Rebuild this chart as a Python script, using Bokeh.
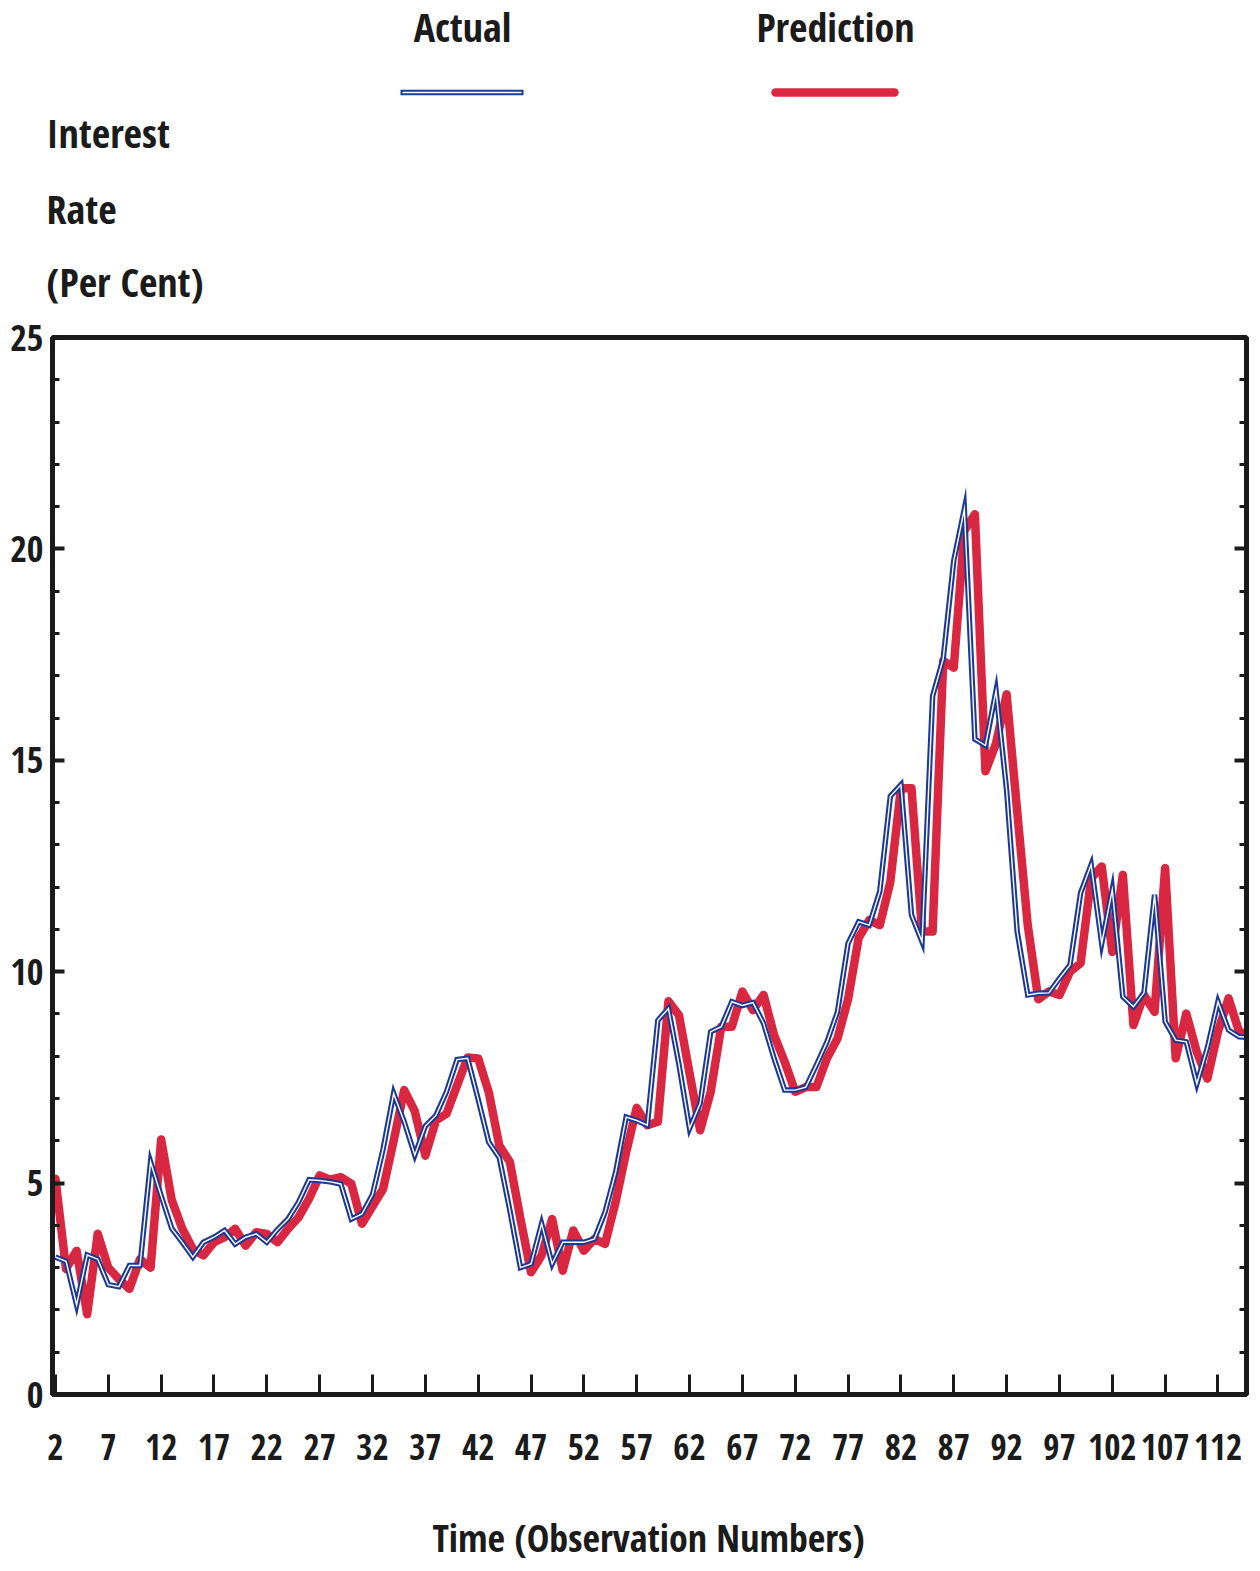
from bokeh.plotting import figure
from bokeh.models import Range1d, FixedTicker, LinearAxis
from bokeh.layouts import column
from bokeh.core.properties import value
from bokeh.embed import file_html
from bokeh.resources import INLINE

# ---------------- data ----------------
obs = list(range(2, 116))
actual = [
    3.25, 3.15, 2.12, 3.3, 3.2, 2.6, 2.55, 3.05, 3.05,
    5.5, 4.7, 3.93, 3.6, 3.25, 3.6, 3.72, 3.88, 3.56, 3.72,
    3.8, 3.6, 3.9, 4.15, 4.55, 5.08, 5.06, 5.03, 4.98, 4.15,
    4.27, 4.73, 5.8, 7.12, 6.45, 5.66, 6.35, 6.6, 7.16, 7.92,
    7.95, 6.98, 5.97, 5.6, 4.35, 3.0, 3.09, 4.04, 3.09, 3.6,
    3.6, 3.6, 3.68, 4.31, 5.25, 6.56, 6.48, 6.37, 8.85, 9.13,
    7.8, 6.29, 6.88, 8.58, 8.7, 9.29, 9.2, 9.27, 8.78, 7.95,
    7.2, 7.2, 7.27, 7.79, 8.34, 9.05, 10.67, 11.18, 11.1, 11.9,
    14.15, 14.42, 11.34, 10.71, 16.52, 17.4, 19.72, 20.94, 15.5, 15.35,
    16.64, 14.3, 10.95, 9.45, 9.49, 9.5, 9.84, 10.16, 11.86, 12.53,
    10.67, 11.94, 9.41, 9.17, 9.5, 11.82, 8.82, 8.38, 8.34, 7.35,
    8.2, 9.29, 8.62, 8.46, 8.45,
]
prediction = [
    5.1, 2.97, 3.4, 1.9, 3.8, 3.0, 2.73, 2.5, 3.2,
    3.0, 6.03, 4.6, 3.92, 3.44, 3.29, 3.6, 3.72, 3.92, 3.52,
    3.84, 3.8, 3.6, 3.92, 4.19, 4.63, 5.18, 5.08, 5.14, 4.98,
    4.04, 4.45, 4.86, 6.0, 7.2, 6.7, 5.65, 6.48, 6.64, 7.31,
    7.97, 7.95, 7.15, 5.89, 5.5, 4.15, 2.89, 3.29, 4.15, 2.93,
    3.88, 3.4, 3.68, 3.56, 4.55, 5.73, 6.78, 6.37, 6.45, 9.3,
    8.97, 7.6, 6.25, 7.16, 8.7, 8.7, 9.53, 9.09, 9.45, 8.5,
    7.87, 7.16, 7.27, 7.27, 7.95, 8.42, 9.35, 10.8, 11.22, 11.1,
    12.13, 14.34, 14.34, 10.95, 10.95, 17.35, 17.19, 20.43, 20.82, 14.74,
    15.4, 16.56, 13.8, 11.1, 9.35, 9.53, 9.45, 10.0, 10.2, 12.21,
    12.49, 10.47, 12.29, 8.74, 9.45, 9.05, 12.45, 7.95, 9.01, 8.1,
    7.47, 8.58, 9.37, 8.58, 8.5,
]
x_ticks = list(range(2, 113, 5))
y_ticks = [0, 5, 10, 15, 20, 25]
y_minor = list(range(0, 26))
series_names = ["Actual", "Prediction"]
y_title = ["Interest", "Rate", "(Per Cent)"]
x_title = "Time (Observation Numbers)"

# ---------------- style ----------------
BLUE = "#1c3a95"
RED = "#da2741"
INK = "#1b1b1b"
FONT = "'Open Sans Condensed', 'Roboto Condensed', 'DejaVu Sans Condensed', sans-serif"

W = 1256
HEAD_H = 311                 # page y 0 .. 311
MAIN_H = 1490 - HEAD_H       # page y 311 .. 1490
FOOT_H = 78                  # page y 1490 .. 1568
FR_L, FR_R, FR_T, FR_B = 52, 1246, 337, 1394  # page coords of the plot frame
DROP = 0.44                  # empirical baseline offset (em) of rendered text


def base(cap_center, size):
    """y to pass so that the caps of a `size`-px text are centred on cap_center."""
    return cap_center + 0.357 * size - DROP * size


def strip(h, y0):
    f = figure(width=W, height=h, output_backend="svg", toolbar_location=None,
               x_range=Range1d(0, W), y_range=Range1d(y0 + h, y0),
               x_axis_location=None, y_axis_location=None,
               min_border=0, min_border_left=0, min_border_right=0,
               min_border_top=0, min_border_bottom=0)
    f.outline_line_color = None
    f.grid.visible = False
    f.frame_align = False
    return f


# ---------------- header (legend + y title) ----------------
head = strip(HEAD_H, 0)
head.line([400, 523], [92, 92], line_color=BLUE, line_width=5.5)
head.line([402, 521], [92, 92], line_color="white", line_width=1.3)
head.line([775, 894], [92, 92], line_color=RED, line_width=8.5, line_cap="round")
head.text(x=[462, 835], y=[base(29, 40)] * 2, text=series_names, text_align="center",
          text_baseline="alphabetic", text_font=value(FONT), text_font_size="40px",
          text_color=INK)
head.text(x=[46, 46, 46], y=[base(c, 40) for c in (135, 211, 284)], text=y_title,
          text_align="left", text_baseline="alphabetic", text_font=value(FONT),
          text_font_size="40px", text_color=INK)

# ---------------- main chart ----------------
X0, X1 = 1.72, 114.7
p = figure(width=W, height=MAIN_H, output_backend="svg", toolbar_location=None,
           x_range=Range1d(X0, X1), y_range=Range1d(0, 25),
           x_axis_location=None, y_axis_location=None,
           min_border_left=FR_L, min_border_right=W - FR_R,
           min_border_top=FR_T - HEAD_H, min_border_bottom=HEAD_H + MAIN_H - FR_B)
p.grid.visible = False
p.frame_align = False
p.outline_line_color = INK
p.outline_line_width = 5

xa = LinearAxis(ticker=FixedTicker(ticks=x_ticks, minor_ticks=[]),
                axis_line_width=4, axis_line_color=INK,
                major_tick_in=20, major_tick_out=0, major_tick_line_width=3,
                major_tick_line_color=INK,
                minor_tick_in=0, minor_tick_out=0,
                major_label_text_font=FONT, major_label_text_font_size="35px",
                major_label_text_color=INK, major_label_standoff=39)
p.add_layout(xa, "below")

ya = LinearAxis(ticker=FixedTicker(ticks=y_ticks, minor_ticks=y_minor),
                axis_line_width=5, axis_line_color=INK,
                major_tick_in=12, major_tick_out=0, major_tick_line_width=4,
                major_tick_line_color=INK,
                minor_tick_in=7, minor_tick_out=0, minor_tick_line_width=3,
                minor_tick_line_color=INK,
                major_label_text_font=FONT, major_label_text_font_size="36px",
                major_label_text_color=INK, major_label_standoff=9)
p.add_layout(ya, "left")

ra = LinearAxis(ticker=FixedTicker(ticks=y_ticks, minor_ticks=y_minor),
                axis_line_width=5, axis_line_color=INK,
                major_tick_in=12, major_tick_out=0, major_tick_line_width=4,
                major_tick_line_color=INK,
                minor_tick_in=7, minor_tick_out=0, minor_tick_line_width=3,
                minor_tick_line_color=INK,
                major_label_text_font_size="1px", major_label_text_color=None,
                major_label_standoff=0)
p.add_layout(ra, "right")

# series: prediction (thick red) under actual (hollow blue)
p.line(obs, prediction, line_color=RED, line_width=8.5, line_join="round", line_cap="round")
p.line(obs, actual, line_color=BLUE, line_width=5.5, line_join="miter")
p.line(obs, actual, line_color="white", line_width=1.4, line_join="miter")

# ---------------- footer (x title) ----------------
foot = strip(FOOT_H, HEAD_H + MAIN_H)
foot.text(x=[648], y=[base(1540, 38)], text=[x_title], text_align="center",
          text_baseline="alphabetic", text_font=value(FONT), text_font_size="38px",
          text_color=INK)

layout = column(head, p, foot, spacing=0)
open("out.html", "w").write(file_html(layout, INLINE))
